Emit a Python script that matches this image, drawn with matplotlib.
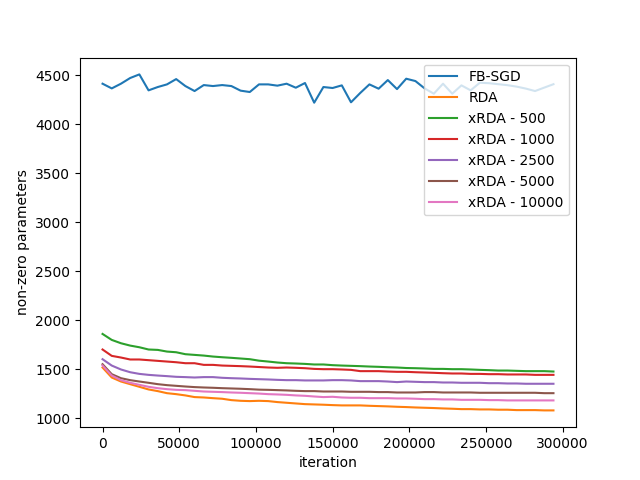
import matplotlib
matplotlib.use('Agg')
import matplotlib.pyplot as plt
import numpy as np

# iterations, one point every 6000 steps
iteration = list(range(0, 300000, 6000))

fb_sgd = [4415, 4367, 4415, 4473, 4510, 4347, 4381, 4408, 4462, 4391,
          4340, 4401, 4391, 4401, 4391, 4344, 4330, 4408, 4408, 4395,
          4415, 4374, 4422, 4221, 4381, 4371, 4398, 4225, 4320, 4408,
          4364, 4452, 4360, 4466, 4442, 4367, 4313, 4415, 4313, 4398,
          4347, 4425, 4420, 4410, 4400, 4385, 4365, 4340, 4375, 4410]

rda = [1516, 1414, 1373, 1346, 1319, 1292, 1275, 1254, 1244, 1231,
       1214, 1210, 1203, 1197, 1183, 1176, 1173, 1176, 1173, 1163,
       1156, 1149, 1142, 1139, 1136, 1132, 1129, 1129, 1129, 1125,
       1122, 1119, 1115, 1112, 1108, 1105, 1102, 1098, 1095, 1091,
       1091, 1088, 1088, 1085, 1085, 1081, 1081, 1081, 1078, 1078]

xrda_500 = [1859, 1798, 1764, 1740, 1723, 1700, 1696, 1679, 1672, 1652,
            1645, 1638, 1628, 1621, 1615, 1608, 1601, 1586, 1577, 1567,
            1560, 1557, 1553, 1547, 1547, 1540, 1536, 1533, 1530, 1526,
            1523, 1519, 1516, 1511, 1509, 1506, 1502, 1502, 1499, 1499,
            1496, 1492, 1489, 1485, 1485, 1482, 1479, 1479, 1479, 1475]

xrda_1000 = [1700, 1635, 1618, 1598, 1598, 1591, 1584, 1577, 1570, 1560,
             1560, 1543, 1543, 1536, 1533, 1530, 1526, 1521, 1516, 1513,
             1516, 1513, 1509, 1502, 1499, 1499, 1496, 1492, 1479, 1479,
             1479, 1475, 1472, 1472, 1468, 1465, 1462, 1458, 1455, 1455,
             1451, 1451, 1448, 1448, 1445, 1445, 1445, 1441, 1441, 1441]

xrda_2500 = [1601, 1536, 1496, 1468, 1451, 1441, 1434, 1428, 1421, 1418,
             1414, 1418, 1418, 1411, 1407, 1404, 1400, 1397, 1394, 1390,
             1387, 1387, 1384, 1384, 1384, 1387, 1387, 1384, 1377, 1377,
             1377, 1373, 1367, 1373, 1370, 1367, 1367, 1363, 1363, 1360,
             1360, 1360, 1356, 1356, 1353, 1353, 1350, 1350, 1350, 1350]

xrda_5000 = [1550, 1448, 1407, 1387, 1373, 1360, 1346, 1336, 1329, 1322,
             1316, 1312, 1309, 1305, 1302, 1299, 1295, 1290, 1288, 1285,
             1282, 1278, 1275, 1275, 1271, 1271, 1271, 1268, 1268, 1268,
             1265, 1265, 1261, 1261, 1261, 1265, 1265, 1261, 1261, 1261,
             1261, 1258, 1258, 1258, 1258, 1258, 1258, 1258, 1254, 1254]

xrda_10000 = [1536, 1434, 1387, 1360, 1339, 1319, 1305, 1295, 1288, 1285,
              1278, 1271, 1268, 1265, 1261, 1258, 1254, 1250, 1244, 1241,
              1237, 1231, 1227, 1220, 1214, 1217, 1210, 1207, 1207, 1203,
              1203, 1203, 1200, 1200, 1197, 1193, 1193, 1190, 1190, 1186,
              1186, 1186, 1183, 1183, 1180, 1180, 1180, 1180, 1180, 1180]

series = [fb_sgd, rda, xrda_500, xrda_1000, xrda_2500, xrda_5000, xrda_10000]
labels = ["FB-SGD", "RDA", "xRDA - 500", "xRDA - 1000", "xRDA - 2500",
          "xRDA - 5000", "xRDA - 10000"]

fig, ax = plt.subplots(figsize=(6.4, 4.8), dpi=100)

# one line per method, default colour cycle
for values, label in zip(series, labels):
    ax.plot(iteration, values, label=label)

ax.set_xlabel("iteration")
ax.set_ylabel("non-zero parameters")
ax.set_yticks(np.arange(1000, 4501, 500))
ax.legend(loc='upper right')

plt.savefig("out.png")
